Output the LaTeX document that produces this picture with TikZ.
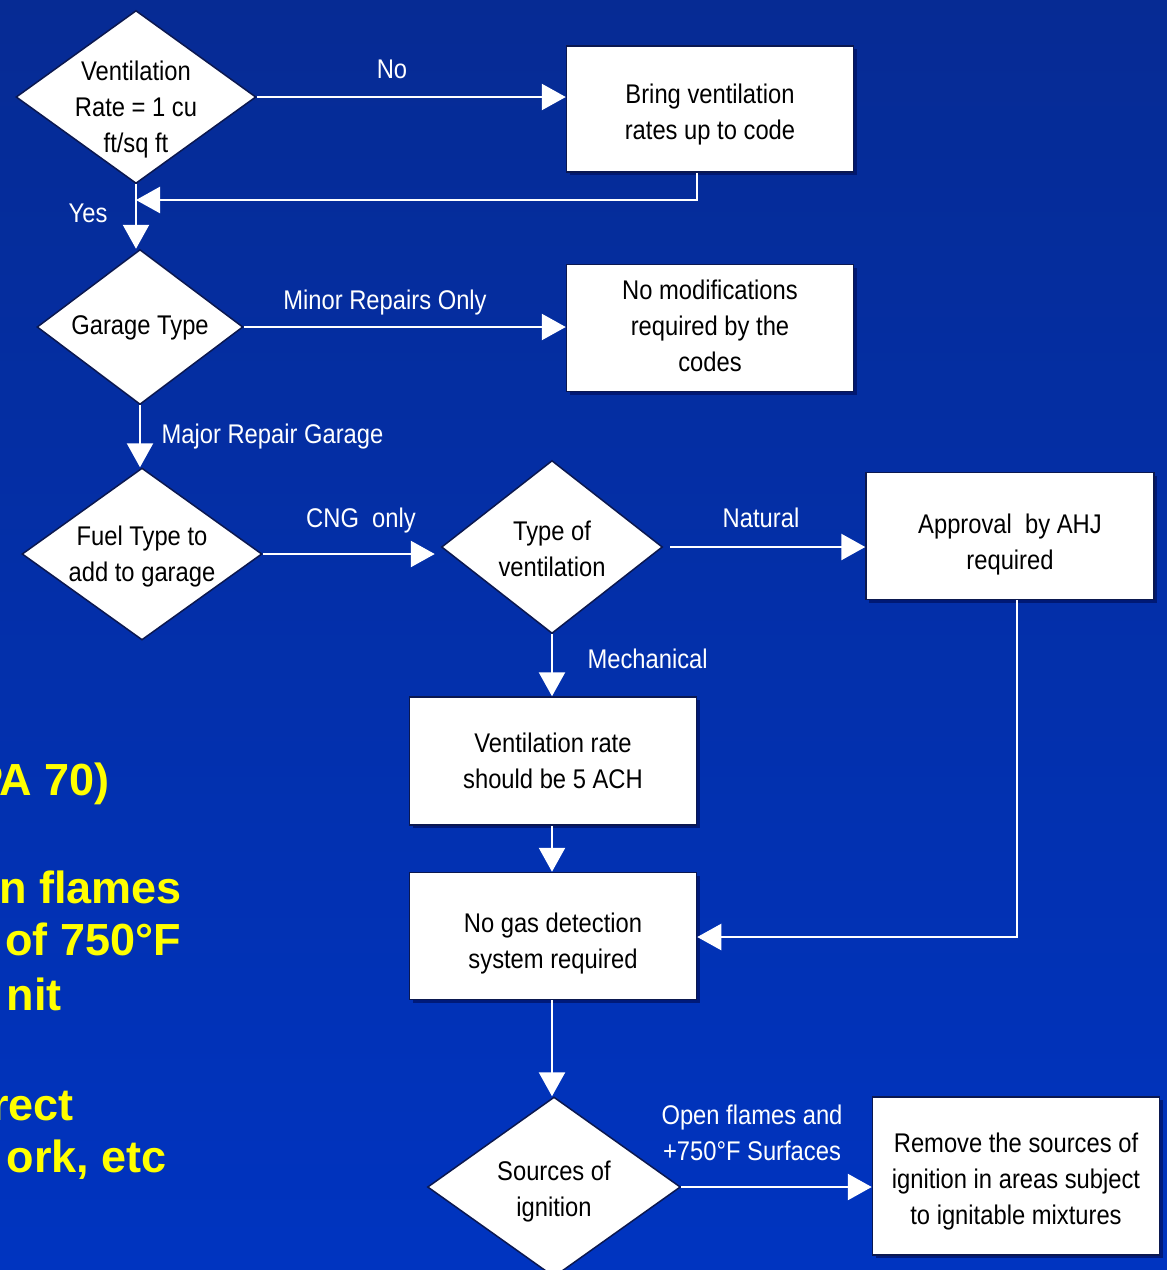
\documentclass[tikz,border=0pt]{standalone}
\usepackage{fontspec}
\setmainfont[FakeStretch=0.88]{Liberation Sans}
\newfontfamily\slidefont{Liberation Sans}
\usetikzlibrary{shapes.geometric}
\usetikzlibrary{arrows.meta}
\usetikzlibrary{shadows}

\definecolor{bgtop}{HTML}{062B94}
\definecolor{bgmid}{HTML}{0040E0}
\definecolor{bgbot}{HTML}{0034C0}
\definecolor{boxline}{HTML}{0B1850}
\definecolor{slideyellow}{HTML}{FFFF00}
\definecolor{slideshadow}{HTML}{001060}
\newcommand{\chartfont}{\fontsize{27}{36}\selectfont}
\newcommand{\slidesize}{\fontsize{45}{53}\selectfont}
% lines of a node, drawn a little lower than the node's centre
\newcommand{\chartlines}[2]{\raisebox{#1}[\height][\depth]{\begin{tabular}{@{}c@{}}#2\end{tabular}}}

\tikzset{
  decision/.style={diamond, draw=boxline, line width=1.5pt, fill=white,
    inner sep=0pt, font=\chartfont},
  process/.style={rectangle, draw=boxline, line width=1.5pt, fill=white,
    font=\chartfont,
    drop shadow={shadow xshift=3pt, shadow yshift=-3pt, fill=slideshadow, opacity=.7}},
  flow/.style={draw=white, line width=2.5pt, -{Triangle[width=26pt,length=24pt]}},
  lbl/.style={text=white, font=\chartfont, align=center},
  slidetext/.style={anchor=base east, inner sep=0pt, text=slideyellow,
    font=\slidefont\bfseries\slidesize},
}

\begin{document}
\begin{tikzpicture}[x=1pt, y=-1pt]
    \useasboundingbox (0,0) rectangle (1167,1270);
    % Draw the slide background
    \shade[top color=bgtop, middle color=bgmid, bottom color=bgbot] (0,0) rectangle (1167,1270);

    % Draw the slide text behind the chart
    \foreach \xr/\yb/\txt [count=\i] in {110/795/{PA 70)}, 182/903/{n flames},
        181/955/{of 750°F}, 62/1010/{nit}, 74/1120/{rect}, 167/1172/{ork, etc}} {
        \node[slidetext] (sl\i) at (\xr, \yb) {\txt};
    }

    % Draw the decisions
    \node[decision, minimum width=240pt, minimum height=173pt, shape aspect=1.39, inner sep=-10pt]
        (vrate) at (136,97) {\chartlines{-12pt}{Ventilation\\Rate = 1 cu\\ft/sq ft}};
    \node[decision, minimum width=206pt, minimum height=155pt, shape aspect=1.33]
        (gtype) at (140,327) {\chartlines{0pt}{Garage Type}};
    \node[decision, minimum width=240pt, minimum height=172pt, shape aspect=1.4, inner sep=-3pt]
        (fuel) at (142,554) {\chartlines{-2pt}{Fuel Type to\\add to garage}};
    \node[decision, minimum width=221pt, minimum height=173pt, shape aspect=1.28]
        (vtype) at (552,547) {\chartlines{-4pt}{Type of\\ventilation}};
    \node[decision, minimum width=253pt, minimum height=180pt, shape aspect=1.4]
        (ignit) at (554,1187) {\chartlines{-4pt}{Sources of\\ignition}};

    % Draw the boxes
    \node[process, minimum width=287pt, minimum height=126pt] (bring) at (710,109)
        {\chartlines{-5pt}{Bring ventilation\\rates up to code}};
    \node[process, minimum width=287pt, minimum height=127pt] (nomod) at (710,328)
        {\chartlines{0pt}{No modifications\\required by the\\codes}};
    \node[process, minimum width=288pt, minimum height=127pt] (ahj) at (1010,536)
        {\chartlines{-8pt}{Approval~ by AHJ\\required}};
    \node[process, minimum width=287pt, minimum height=128pt] (ach) at (553,761)
        {\chartlines{-2pt}{Ventilation rate\\should be 5 ACH}};
    \node[process, minimum width=287pt, minimum height=127pt] (nogas) at (553,936)
        {\chartlines{-7pt}{No gas detection\\system required}};
    \node[process, minimum width=287pt, minimum height=158pt] (remove) at (1016,1176)
        {\chartlines{-5pt}{Remove the sources of\\ignition in areas subject\\to ignitable mixtures}};

    % Draw the connectors
    \coordinate (ret) at (697,200);
    \coordinate (apr) at (1017,937);
    \draw[flow] (vrate.east) -- (vrate.east -| bring.west);
    \draw[flow] (bring.south -| ret) -- (ret) -- (ret -| vrate.south);
    \draw[flow] (vrate.south) -- (vrate.south |- gtype.north);
    \draw[flow] (gtype.east) -- (gtype.east -| nomod.west);
    \draw[flow] (gtype.south) -- (gtype.south |- fuel.north);
    \draw[flow, shorten >=6pt] (fuel.east) -- (fuel.east -| vtype.west);
    \draw[flow, shorten <=7pt] (vtype.east) -- (vtype.east -| ahj.west);
    \draw[flow] (vtype.south) -- (vtype.south |- ach.north);
    \draw[flow] (ach.south -| vtype.south) -- (nogas.north -| vtype.south);
    \draw[flow] (ahj.south -| apr) -- (apr) -- (nogas.east |- apr);
    \draw[flow] (nogas.south -| vtype.south) -- (ignit.north -| vtype.south);
    \draw[flow] (ignit.east) -- (ignit.east -| remove.west);

    % Draw the labels
    \node[lbl] (lno) at (392,69) {No};
    \node[lbl] (lyes) at (88,213) {Yes};
    \node[lbl] (lminor) at (385,303) {Minor Repairs Only};
    \node[lbl, anchor=west] (lmajor) at (158,437) {Major Repair Garage};
    \node[lbl] (lcng) at (361,521) {CNG~ only};
    \node[lbl] (lnat) at (761,518) {Natural};
    \node[lbl, anchor=west] (lmech) at (584,659) {Mechanical};
    \node[lbl] (lopen) at (752,1133) {Open flames and\\+750°F Surfaces};
\end{tikzpicture}
\end{document}
